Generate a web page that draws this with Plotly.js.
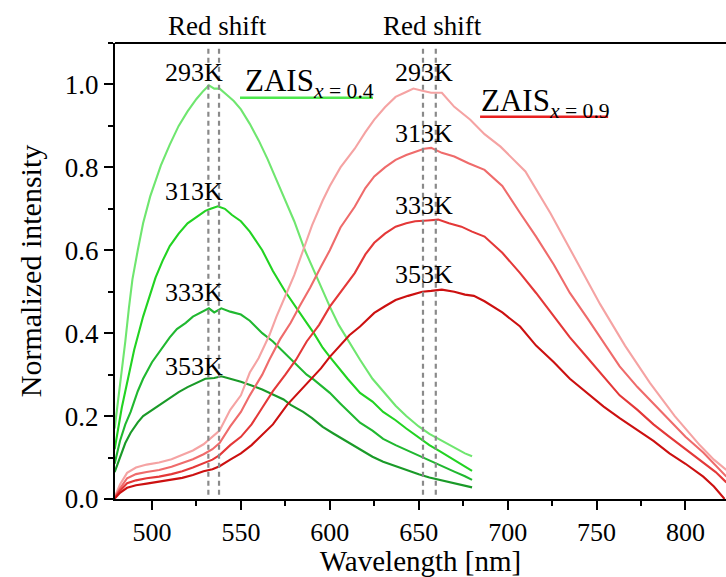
<!DOCTYPE html>
<html>
<head>
<meta charset="utf-8">
<script src="https://cdn.plot.ly/plotly-3.0.1.min.js"></script>
<style>
  html, body { margin: 0; padding: 0; background: #fff; }
  #chart { width: 726px; height: 577px; }
</style>
</head>
<body>
<div id="chart"></div>
<script>
// ---- Data ----
// ZAIS x = 0.4 (green)
const g293_x = [479,481,483,485,487,489,492,495,499,505,510,515,520,525,529,532,535,538,542,546,550,555,560,565,570,575,580,586,590,595,600,605,610,617,624,630,637,643,650,656,662,670,676,680];
const g293_y = [0.17,0.24,0.30,0.38,0.46,0.53,0.60,0.665,0.73,0.805,0.855,0.90,0.935,0.965,0.985,0.998,0.99,0.99,0.975,0.96,0.94,0.905,0.865,0.82,0.77,0.72,0.67,0.60,0.56,0.51,0.464,0.42,0.384,0.336,0.29,0.26,0.225,0.20,0.175,0.157,0.143,0.123,0.11,0.103];

const g313_x = [479,481,483,486.5,490,495,502,506,510,515,520,525,530,533,537,541,545,550,555,562,568,575,581,587,591,596,600,606,610,617,624,630,637,643,650,656,662,670,676,680];
const g313_y = [0.12,0.17,0.22,0.29,0.36,0.44,0.534,0.575,0.61,0.64,0.665,0.68,0.695,0.70,0.706,0.70,0.685,0.67,0.645,0.60,0.55,0.50,0.464,0.425,0.40,0.365,0.343,0.31,0.29,0.256,0.235,0.21,0.19,0.17,0.148,0.13,0.115,0.095,0.08,0.068];

const g333_x = [479,482,485,488,492,495,500,505,510,514,519,523,528,532,535,539,544,550,555,562,568,575,581,587,591,596,600,606,611,617,624,630,637,643,650,656,662,670,676,680];
const g333_y = [0.085,0.14,0.18,0.21,0.26,0.29,0.33,0.36,0.39,0.41,0.425,0.44,0.45,0.46,0.45,0.46,0.452,0.445,0.43,0.40,0.38,0.35,0.324,0.30,0.288,0.27,0.256,0.23,0.21,0.184,0.165,0.145,0.13,0.118,0.105,0.093,0.082,0.066,0.055,0.046];

const g353_x = [479,482,485,488,492,495,500,505,510,515,520,525,530,535,539,544,550,556,562,568,574,578,585,590,596,602,606,611,617,624,630,637,643,650,656,662,670,676,680];
const g353_y = [0.065,0.10,0.135,0.16,0.185,0.20,0.215,0.23,0.245,0.258,0.27,0.28,0.29,0.292,0.296,0.29,0.283,0.274,0.264,0.252,0.24,0.227,0.21,0.195,0.174,0.158,0.148,0.135,0.119,0.102,0.09,0.079,0.07,0.06,0.052,0.046,0.037,0.031,0.028];

// ZAIS x = 0.9 (red)
const r293_x = [479,482,486,491,497,504,511,517,523,529,534,538,544,550,555,560,566,570,576,580,585,590,596,600,606,614,620,625,631,637,642,647,652,657,663,667,670,679,687,696,710,724,738,752,766,780,794,808,816,823];
const r293_y = [0.005,0.035,0.063,0.076,0.083,0.088,0.096,0.106,0.117,0.132,0.15,0.165,0.215,0.25,0.305,0.34,0.395,0.44,0.50,0.54,0.60,0.66,0.72,0.755,0.80,0.845,0.885,0.915,0.945,0.97,0.98,0.99,0.985,0.98,0.98,0.96,0.946,0.915,0.88,0.85,0.79,0.69,0.58,0.47,0.37,0.28,0.20,0.13,0.095,0.07];

const r313_x = [479,482,486,491,497,504,511,517,523,529,534,538,544,550,555,562,566,572,578,583,589,595,600,606,614,620,625,631,637,643,648,653,657,663,670,678,687,697,707,716,726,735,745,754,763,773,782,791,800,810,817,823];
const r313_y = [0.003,0.025,0.05,0.06,0.065,0.07,0.078,0.087,0.096,0.108,0.12,0.135,0.175,0.21,0.25,0.30,0.336,0.385,0.425,0.465,0.51,0.56,0.60,0.655,0.705,0.75,0.778,0.80,0.818,0.83,0.838,0.845,0.847,0.835,0.826,0.81,0.794,0.755,0.69,0.633,0.565,0.497,0.435,0.377,0.32,0.27,0.23,0.19,0.15,0.112,0.08,0.054];

const r333_x = [479,482,486,491,497,504,511,517,523,529,534,538,544,550,556,562,568,575,581,587,594,600,606,614,620,625,631,637,643,648,655,661,667,674,680,687,697,707,716,726,735,745,754,763,773,782,791,800,810,817,823];
const r333_y = [0.002,0.02,0.038,0.045,0.05,0.054,0.06,0.067,0.076,0.087,0.095,0.106,0.13,0.15,0.18,0.22,0.26,0.30,0.336,0.38,0.42,0.464,0.50,0.545,0.59,0.618,0.64,0.657,0.665,0.67,0.672,0.674,0.665,0.657,0.645,0.633,0.594,0.545,0.497,0.44,0.39,0.34,0.295,0.25,0.215,0.18,0.15,0.12,0.087,0.065,0.04];

const r353_x = [479,482,486,491,497,504,511,517,523,529,534,538,544,550,556,562,568,576,583,589,595,600,606,611,617,625,631,637,644,652,657,663,670,676,681,687,697,707,716,726,735,745,754,763,773,782,791,800,810,816,822];
const r353_y = [0.001,0.015,0.027,0.033,0.037,0.042,0.047,0.051,0.058,0.067,0.072,0.079,0.095,0.11,0.13,0.155,0.18,0.227,0.26,0.288,0.315,0.343,0.37,0.395,0.416,0.449,0.465,0.48,0.49,0.50,0.502,0.505,0.50,0.493,0.49,0.477,0.45,0.416,0.37,0.33,0.29,0.255,0.223,0.195,0.167,0.14,0.11,0.085,0.054,0.03,0.0];

// Peak-position marker lines (nm) and text labels
const shiftLinesGreen = [531.7, 537.7];
const shiftLinesRed = [652.4, 659.6];
const shiftTextX = [537.1, 658.0];
const tempLabels = ['293K', '313K', '333K', '353K'];
const greenLabelY = [1.028, 0.741, 0.498, 0.320];
const redLabelY = [1.028, 0.881, 0.707, 0.541];
const xTickVals = [500, 550, 600, 650, 700, 750, 800];

// ---- Styles ----
const FONT = 'Liberation Serif';
const greenColors = ['#6fe66f', '#22d322', '#20b830', '#1a9a28'];
const redColors = ['#f5a3a3', '#ef6b6b', '#e43838', '#cc1010'];

const series = [
  [g293_x, g293_y, greenColors[0]],
  [g313_x, g313_y, greenColors[1]],
  [g333_x, g333_y, greenColors[2]],
  [g353_x, g353_y, greenColors[3]],
  [r293_x, r293_y, redColors[0]],
  [r313_x, r313_y, redColors[1]],
  [r333_x, r333_y, redColors[2]],
  [r353_x, r353_y, redColors[3]]
];

const traces = series.map(s => ({
  type: 'scatter', mode: 'lines', x: s[0], y: s[1],
  line: {color: s[2], width: 2.1},
  hoverinfo: 'skip', showlegend: false
}));

const shapes = [];
// top frame line
shapes.push({type: 'line', xref: 'paper', yref: 'paper', x0: 0, x1: 1, y0: 1, y1: 1,
             line: {color: '#000', width: 2}});
shiftLinesGreen.concat(shiftLinesRed).forEach(v => {
  shapes.push({type: 'line', xref: 'x', yref: 'y', x0: v, x1: v, y0: 0.01, y1: 1.095,
               line: {color: '#8a8a8a', width: 2.2, dash: '5px,4px'}, layer: 'above'});
});
// underlines of the series names
shapes.push({type: 'line', xref: 'x', yref: 'y', x0: 549.5, x1: 624.3, y0: 0.968, y1: 0.968,
             line: {color: '#4de84d', width: 2.5}});
shapes.push({type: 'line', xref: 'x', yref: 'y', x0: 684.5, x1: 756.5, y0: 0.922, y1: 0.922,
             line: {color: '#e82020', width: 2.5}});

const annotations = [];
shiftTextX.forEach(x => {
  annotations.push({x: x, y: 1.038, xref: 'x', yref: 'paper', yanchor: 'middle', xanchor: 'center',
                    text: 'Red shift', showarrow: false,
                    font: {family: FONT, size: 27, color: '#000'}});
});
tempLabels.forEach((t, i) => {
  annotations.push({x: 523.6, y: greenLabelY[i], xref: 'x', yref: 'y', text: t, showarrow: false,
                    font: {family: FONT, size: 26, color: '#000'}});
  annotations.push({x: 653.0, y: redLabelY[i], xref: 'x', yref: 'y', text: t, showarrow: false,
                    font: {family: FONT, size: 26, color: '#000'}});
});
annotations.push({x: 551.2, y: 1.004, xref: 'x', yref: 'y', xanchor: 'left', yanchor: 'middle',
                  text: 'ZAIS<sub><i>x</i> = 0.4</sub>', showarrow: false,
                  font: {family: FONT, size: 31, color: '#000'}});
annotations.push({x: 684.0, y: 0.956, xref: 'x', yref: 'y', xanchor: 'left', yanchor: 'middle',
                  text: 'ZAIS<sub><i>x</i> = 0.9</sub>', showarrow: false,
                  font: {family: FONT, size: 31, color: '#000'}});

const layout = {
  width: 726, height: 577,
  margin: {l: 115, r: 0, t: 43, b: 78, pad: 0},
  paper_bgcolor: '#fff', plot_bgcolor: '#fff',
  showlegend: false,
  font: {family: FONT, color: '#000'},
  xaxis: {
    range: [479.2, 822.8], showgrid: false, zeroline: false,
    showline: true, linecolor: '#000', linewidth: 2,
    ticks: 'outside', ticklen: 9, tickwidth: 2, tickcolor: '#000',
    tickmode: 'array', tickvals: xTickVals,
    minor: {tick0: 475, dtick: 25, ticks: 'outside', ticklen: 5, tickwidth: 2, tickcolor: '#000', showgrid: false},
    tickfont: {family: FONT, size: 26, color: '#000'},
    title: {text: 'Wavelength [nm]', font: {family: FONT, size: 29, color: '#000'}, standoff: 8}
  },
  yaxis: {
    range: [0, 1.1], showgrid: false, zeroline: false,
    showline: true, linecolor: '#000', linewidth: 2,
    ticks: 'outside', ticklen: 9, tickwidth: 2, tickcolor: '#000',
    tick0: 0, dtick: 0.2, tickformat: '.1f',
    minor: {tick0: 0, dtick: 0.1, ticks: 'outside', ticklen: 5, tickwidth: 2, tickcolor: '#000', showgrid: false},
    tickfont: {family: FONT, size: 27, color: '#000'},
    title: {text: 'Normalized intensity', font: {family: FONT, size: 30, color: '#000'}, standoff: 14}
  },
  shapes: shapes,
  annotations: annotations
};

Plotly.newPlot('chart', traces, layout, {displayModeBar: false, staticPlot: true});
</script>
</body>
</html>
